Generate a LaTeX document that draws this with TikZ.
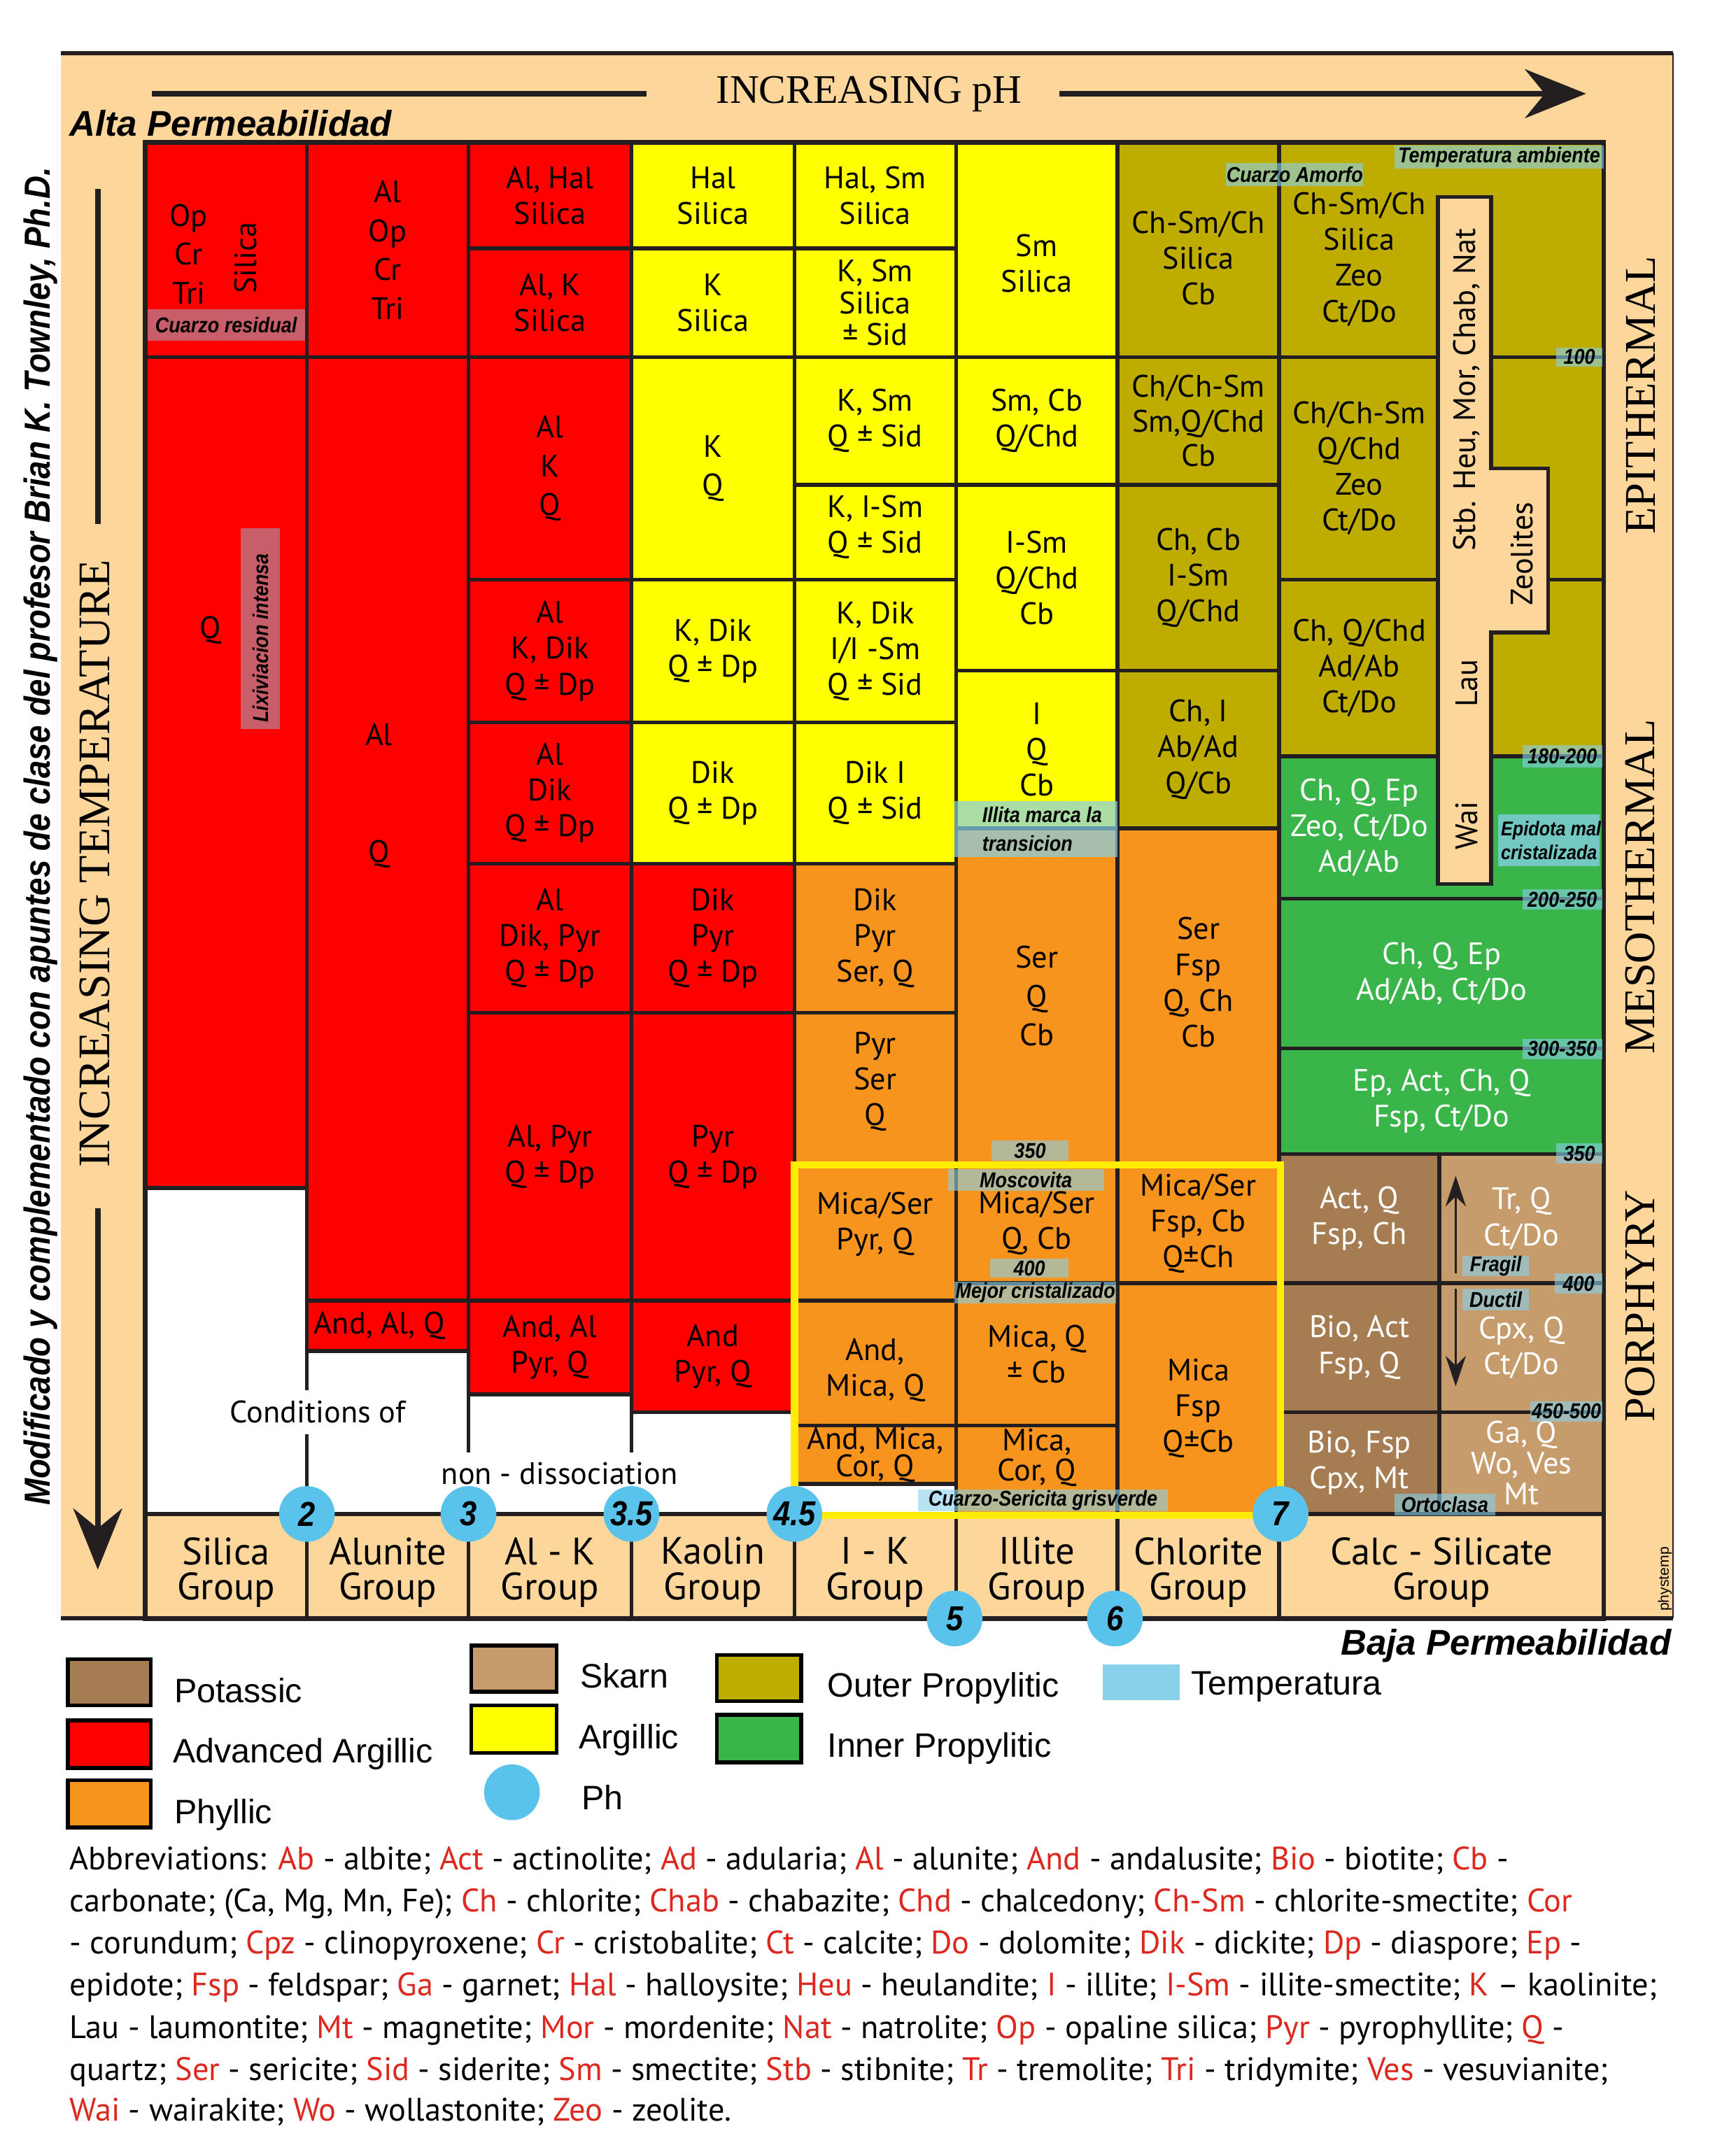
\documentclass[tikz,border=0pt]{standalone}
\usepackage{fontspec}
\setmainfont{Liberation Sans}
\newfontfamily\cellfont{PT Sans}
\newfontfamily\narrowfont{Liberation Sans}[FakeStretch=0.88]
\newfontfamily\zonefont{Liberation Serif}
\usetikzlibrary{arrows.meta, calc}

\definecolor{beige}{RGB}{252,214,155}
\definecolor{gridline}{RGB}{35,31,32}
\definecolor{argred}{RGB}{255,0,0}
\definecolor{argyellow}{RGB}{255,255,0}
\definecolor{phyllic}{RGB}{247,148,30}
\definecolor{outerprop}{RGB}{190,172,0}
\definecolor{innerprop}{RGB}{57,181,74}
\definecolor{potassic}{RGB}{166,124,82}
\definecolor{skarn}{RGB}{198,156,109}
\definecolor{phblue}{RGB}{89,195,235}
\definecolor{tempblue}{RGB}{135,209,235}
\definecolor{yellowframe}{RGB}{255,237,0}
\definecolor{abbrred}{RGB}{220,40,30}

\tikzset{
    gridcell/.style={draw=gridline, line width=1.6pt},
    celltext/.style={align=center, inner sep=0pt, font=\cellfont\fontsize{13}{15}\selectfont},
    looselines/.style={font=\cellfont\fontsize{13}{16.3}\selectfont},
    tightlines/.style={font=\cellfont\fontsize{13}{11.5}\selectfont},
    grouptext/.style={font=\cellfont\fontsize{16}{14.8}\selectfont, yshift=-0.9mm},
    templbl/.style={inner sep=0pt, font=\narrowfont\bfseries\itshape\fontsize{9}{11.9}\selectfont},
    phcircle/.style={circle, fill=phblue, minimum size=8.2mm, inner sep=0pt,
                     font=\narrowfont\bfseries\itshape\fontsize{14.5}{15}\selectfont},
    zonelbl/.style={rotate=90, inner sep=0pt, font=\zonefont\fontsize{18.4}{20}\selectfont},
    bigline/.style={draw=gridline, line width=2.3pt},
    bigarrow/.style={bigline, -{Stealth[length=9mm, width=7.2mm]}},
    smallarrow/.style={draw=gridline, line width=0.7pt, -{Stealth[length=4.5mm, width=3mm]}},
    legendbox/.style={draw=black, line width=1.6pt},
    legendtxt/.style={anchor=base west, inner sep=0pt, font=\fontsize{14.2}{16}\selectfont},
    abbrline/.style={anchor=base west, inner sep=0pt, font=\cellfont\fontsize{13.6}{16}\selectfont},
    permtxt/.style={inner sep=0pt, font=\bfseries\itshape\fontsize{15}{16}\selectfont},
}

% one coloured field of the chart: name, x1, y1, x2, y2, fill, text options, text
\newcommand{\zonecell}[8]{%
    \filldraw[gridcell, fill=#6] (#2,#3) rectangle (#4,#5);
    \node[celltext, #7] (#1) at ($(#2,#3)!0.5!(#4,#5)$) {#8};
}
% translucent temperature tag: [opacity] name, x1, y1, x2, y2, text
\newcommand{\templabel}[7][0.6]{%
    \fill[tempblue, opacity=#1] (#3,#4) rectangle (#5,#6);
    \node[templbl] (#2) at ($(#3,#4)!0.5!(#5,#6)$) {#7};
}
\newcommand{\abr}[1]{\textcolor{abbrred}{#1}}

\begin{document}
\begin{tikzpicture}[x=0.2mm, y=-0.2mm]
    \useasboundingbox (0,0) rectangle (1278,1568);
    \fill[white] (0,0) rectangle (1278,1568);

    % Frame
    \fill[beige] (45,39) rectangle (1232,1192);
    \draw[gridline, line width=1.7pt] (45,39) -- (1232,39);
    \draw[gridline, line width=0.5pt] (1232,39) -- (1232,1192);

    % Silica group
    \zonecell{silA}{107}{105}{226}{263}{argred}{looselines, xshift=-5.5mm, yshift=-0.6mm}{Op\\Cr\\Tri}
    \node[celltext, rotate=90] (silB) at (181,190) {Silica};
    \templabel[0.45]{cuarzores}{107}{228}{226}{251}{Cuarzo residual}
    \filldraw[gridcell, fill=argred] (107,263) rectangle (226,875);
    \node[celltext] (silQ) at (155,464) {Q};
    \fill[tempblue, opacity=0.45] (177,389) rectangle (206,537);
    \node[templbl, rotate=90] (lixiv) at (192,470) {Lixiviacion intensa};
    \filldraw[gridcell, fill=white] (107,875) rectangle (226,1115);

    % Alunite group
    \zonecell{aluA}{226}{105}{345}{263}{argred}{looselines}{Al\\Op\\Cr\\Tri}
    \filldraw[gridcell, fill=argred] (226,263) rectangle (345,958);
    \node[celltext] (aluAl) at (279,541) {Al};
    \node[celltext] (aluQ) at (279,629) {Q};
    \zonecell{aluB}{226}{958}{345}{995}{argred}{xshift=-1.2mm}{And, Al, Q}
    \filldraw[gridcell, fill=white] (226,995) rectangle (345,1115);

    % Al-K group
    \zonecell{alkA}{345}{105}{465}{183}{argred}{}{Al, Hal\\Silica}
    \zonecell{alkB}{345}{183}{465}{263}{argred}{}{Al, K\\Silica}
    \zonecell{alkC}{345}{263}{465}{427}{argred}{looselines}{Al\\K\\Q}
    \zonecell{alkD}{345}{427}{465}{532}{argred}{}{Al\\K, Dik\\Q ± Dp}
    \zonecell{alkE}{345}{532}{465}{636}{argred}{}{Al\\Dik\\Q ± Dp}
    \zonecell{alkF}{345}{636}{465}{746}{argred}{}{Al\\Dik, Pyr\\Q ± Dp}
    \zonecell{alkG}{345}{746}{465}{958}{argred}{}{Al, Pyr\\Q ± Dp}
    \zonecell{alkH}{345}{958}{465}{1027}{argred}{}{And, Al\\Pyr, Q}
    \filldraw[gridcell, fill=white] (345,1027) rectangle (465,1115);

    % Kaolin group
    \zonecell{kaoA}{465}{105}{585}{183}{argyellow}{}{Hal\\Silica}
    \zonecell{kaoB}{465}{183}{585}{263}{argyellow}{}{K\\Silica}
    \zonecell{kaoC}{465}{263}{585}{427}{argyellow}{looselines}{K\\Q}
    \zonecell{kaoD}{465}{427}{585}{532}{argyellow}{}{K, Dik\\Q ± Dp}
    \zonecell{kaoE}{465}{532}{585}{636}{argyellow}{}{Dik\\Q ± Dp}
    \zonecell{kaoF}{465}{636}{585}{746}{argred}{}{Dik\\Pyr\\Q ± Dp}
    \zonecell{kaoG}{465}{746}{585}{958}{argred}{}{Pyr\\Q ± Dp}
    \zonecell{kaoH}{465}{958}{585}{1040}{argred}{}{And\\Pyr, Q}
    \filldraw[gridcell, fill=white] (465,1040) rectangle (585,1115);

    % I-K group
    \zonecell{ikA}{585}{105}{704}{183}{argyellow}{}{Hal, Sm\\Silica}
    \zonecell{ikB}{585}{183}{704}{263}{argyellow}{font=\cellfont\fontsize{13}{13.3}\selectfont}{K, Sm\\Silica\\± Sid}
    \zonecell{ikC}{585}{263}{704}{357}{argyellow}{}{K, Sm\\Q ± Sid}
    \zonecell{ikD}{585}{357}{704}{427}{argyellow}{yshift=0.8mm}{K, I-Sm\\Q ± Sid}
    \zonecell{ikE}{585}{427}{704}{532}{argyellow}{}{K, Dik\\I/I -Sm\\Q ± Sid}
    \zonecell{ikF}{585}{532}{704}{636}{argyellow}{}{Dik I\\Q ± Sid}
    \zonecell{ikG}{585}{636}{704}{746}{phyllic}{}{Dik\\Pyr\\Ser, Q}
    \zonecell{ikH}{585}{746}{704}{857}{phyllic}{yshift=1mm}{Pyr\\Ser\\Q}
    \zonecell{ikI}{585}{857}{704}{958}{phyllic}{yshift=1.2mm}{Mica/Ser\\Pyr, Q}
    \zonecell{ikJ}{585}{958}{704}{1050}{phyllic}{yshift=-1mm}{And,\\Mica, Q}
    \zonecell{ikK}{585}{1050}{704}{1093}{phyllic}{tightlines}{And, Mica,\\Cor, Q}
    \filldraw[gridcell, fill=white] (585,1093) rectangle (704,1115);

    % Illite group
    \zonecell{illA}{704}{105}{823}{263}{argyellow}{yshift=-2mm}{Sm\\Silica}
    \zonecell{illB}{704}{263}{823}{357}{argyellow}{}{Sm, Cb\\Q/Chd}
    \zonecell{illC}{704}{357}{823}{494}{argyellow}{}{I-Sm\\Q/Chd\\Cb}
    \zonecell{illD}{704}{494}{823}{610}{argyellow}{}{I\\Q\\Cb}
    \zonecell{illE}{704}{610}{823}{857}{phyllic}{looselines}{Ser\\Q\\Cb}
    \zonecell{illF}{704}{857}{823}{945}{phyllic}{}{Mica/Ser\\Q, Cb}
    \zonecell{illG}{704}{945}{823}{1050}{phyllic}{}{Mica, Q\\± Cb}
    \zonecell{illH}{704}{1050}{823}{1115}{phyllic}{font=\cellfont\fontsize{13}{12.8}\selectfont, yshift=1.8mm}{Mica,\\Cor, Q}

    % Chlorite group
    \zonecell{chlA}{823}{105}{942}{263}{outerprop}{yshift=-1.2mm}{Ch-Sm/Ch\\Silica\\Cb}
    \zonecell{chlB}{823}{263}{942}{357}{outerprop}{font=\cellfont\fontsize{13}{14.5}\selectfont}{Ch/Ch-Sm\\Sm,Q/Chd\\Cb}
    \zonecell{chlC}{823}{357}{942}{494}{outerprop}{}{Ch, Cb\\I-Sm\\Q/Chd}
    \zonecell{chlD}{823}{494}{942}{610}{outerprop}{}{Ch, I\\Ab/Ad\\Q/Cb}
    \zonecell{chlE}{823}{610}{942}{857}{phyllic}{yshift=2mm}{Ser\\Fsp\\Q, Ch\\Cb}
    \zonecell{chlF}{823}{857}{942}{945}{phyllic}{}{Mica/Ser\\Fsp, Cb\\Q±Ch}
    \zonecell{chlG}{823}{945}{942}{1115}{phyllic}{yshift=-1.4mm}{Mica\\Fsp\\Q±Cb}

    % Calc-silicate group
    \zonecell{calA}{942}{105}{1181}{263}{outerprop}{xshift=-12.1mm, yshift=-1.4mm}{Ch-Sm/Ch\\Silica\\Zeo\\Ct/Do}
    \zonecell{calB}{942}{263}{1181}{427}{outerprop}{xshift=-12.1mm}{Ch/Ch-Sm\\Q/Chd\\Zeo\\Ct/Do}
    \zonecell{calC}{942}{427}{1181}{557}{outerprop}{xshift=-12.1mm}{Ch, Q/Chd\\Ad/Ab\\Ct/Do}
    \zonecell{calD}{942}{557}{1181}{662}{innerprop}{xshift=-12.1mm, text=white}{Ch, Q, Ep\\Zeo, Ct/Do\\Ad/Ab}
    \zonecell{calE}{942}{662}{1181}{772}{innerprop}{text=white}{Ch, Q, Ep\\Ad/Ab, Ct/Do}
    \zonecell{calF}{942}{772}{1181}{850}{innerprop}{text=white}{Ep, Act, Ch, Q\\Fsp, Ct/Do}
    \zonecell{calG}{942}{850}{1060}{945}{potassic}{text=white}{Act, Q\\Fsp, Ch}
    \zonecell{calH}{1060}{850}{1181}{945}{skarn}{text=white}{Tr, Q\\Ct/Do}
    \zonecell{calI}{942}{945}{1060}{1040}{potassic}{text=white}{Bio, Act\\Fsp, Q}
    \zonecell{calJ}{1060}{945}{1181}{1040}{skarn}{text=white}{Cpx, Q\\Ct/Do}
    \zonecell{calK}{942}{1040}{1060}{1115}{potassic}{text=white}{Bio, Fsp\\Cpx, Mt}
    \zonecell{calL}{1060}{1040}{1181}{1115}{skarn}{text=white, font=\cellfont\fontsize{13}{13}\selectfont}{Ga, Q\\Wo, Ves\\Mt}

    % Group names
    \zonecell{grpSil}{107}{1115}{226}{1192}{beige}{grouptext}{Silica\\Group}
    \zonecell{grpAlu}{226}{1115}{345}{1192}{beige}{grouptext}{Alunite\\Group}
    \zonecell{grpAlk}{345}{1115}{465}{1192}{beige}{grouptext}{Al - K\\Group}
    \zonecell{grpKao}{465}{1115}{585}{1192}{beige}{grouptext}{Kaolin\\Group}
    \zonecell{grpIK}{585}{1115}{704}{1192}{beige}{grouptext}{I - K\\Group}
    \zonecell{grpIll}{704}{1115}{823}{1192}{beige}{grouptext}{Illite\\Group}
    \zonecell{grpChl}{823}{1115}{942}{1192}{beige}{grouptext}{Chlorite\\Group}
    \zonecell{grpCal}{942}{1115}{1181}{1192}{beige}{grouptext}{Calc - Silicate\\Group}
    \draw[gridline, line width=2pt] (107,105) rectangle (1181,1192);
    \draw[gridline, line width=1.7pt] (45,1192) -- (1232,1192);

    % Conditions of non-dissociation
    \node[celltext, fill=white, inner xsep=1mm, inner ysep=1.6mm] (condA) at (234,1040) {Conditions of};
    \node[celltext, fill=white, inner xsep=1mm, inner ysep=1.4mm] (condB) at (412,1085) {non - dissociation};

    % Phyllic box
    \draw[yellowframe, line width=3.1pt] (585,858) rectangle (943,1116);

    % Zeolites
    \filldraw[fill=beige, draw=gridline, line width=1.7pt] (1059,145) -- (1098,145) -- (1098,345)
        -- (1140,345) -- (1140,466) -- (1098,466) -- (1098,651) -- (1059,651) -- cycle;
    \node[celltext, rotate=90] (zeoA) at (1080,287) {Stb. Heu, Mor, Chab, Nat};
    \node[celltext, rotate=90] (zeoB) at (1121,408) {Zeolites};
    \node[celltext, rotate=90] (zeoC) at (1080,503) {Lau};
    \node[celltext, rotate=90] (zeoD) at (1080,608) {Wai};

    % Temperature tags
    \templabel{tAmb}{1027}{107}{1181}{124}{Temperatura ambiente}
    \templabel{tAmo}{903}{120}{1004}{137}{Cuarzo Amorfo}
    \templabel{t100}{1146}{256}{1180}{270}{100}
    \templabel{t180}{1121}{549}{1180}{565}{180-200}
    \templabel{t200}{1121}{655}{1180}{670}{200-250}
    \templabel{t300}{1121}{765}{1180}{780}{300-350}
    \templabel{t350}{1146}{842}{1180}{857}{350}
    \templabel{t400}{1145}{938}{1180}{953}{400}
    \templabel{t450}{1127}{1032}{1180}{1047}{450-500}
    \fill[tempblue, opacity=0.75] (1103,600) rectangle (1178,638);
    \node[templbl, anchor=west, align=left, font=\narrowfont\bfseries\itshape\fontsize{8.4}{10.2}\selectfont] (epid) at (1105,619) {Epidota mal\\cristalizada};
    \fill[tempblue, opacity=0.7] (703,590) rectangle (823,631);
    \node[templbl, anchor=west, align=left] (illita) at (723,610.5) {Illita marca la\\transicion};
    \templabel{i350}{730}{840}{787}{855}{350}
    \templabel{mosc}{698}{861}{813}{877}{Moscovita}
    \templabel{i400}{729}{927}{787}{941}{400}
    \templabel{mejor}{703}{944}{822}{960}{Mejor cristalizado}
    \templabel{cuaser}{676}{1097}{860}{1113}{Cuarzo-Sericita grisverde}
    \templabel{frag}{1077}{925}{1126}{940}{Fragil}
    \templabel{duct}{1077}{949}{1126}{965}{Ductil}
    \templabel{orto}{1027}{1100}{1101}{1116}{Ortoclasa}

    % Fragil / Ductil arrows
    \coordinate (fragBot) at (1072,938);
    \coordinate (fragTop) at (1072,866);
    \coordinate (ductTop) at (1072,949);
    \coordinate (ductBot) at (1072,1021);
    \draw[smallarrow] (fragBot) -- (fragTop);
    \draw[smallarrow] (ductTop) -- (ductBot);

    % pH values
    \node[phcircle] (ph2) at (226,1115) {2};
    \node[phcircle] (ph3) at (345,1115) {3};
    \node[phcircle] (ph35) at (465,1115) {3.5};
    \node[phcircle] (ph45) at (585,1115) {4.5};
    \node[phcircle] (ph5) at (703,1192) {5};
    \node[phcircle] (ph6) at (821,1192) {6};
    \node[phcircle] (ph7) at (943,1115) {7};

    % Zones
    \node[zonelbl] (epi) at (1208,291) {EPITHERMAL};
    \node[zonelbl] (meso) at (1208,653) {MESOTHERMAL};
    \node[zonelbl] (porph) at (1208,962) {PORPHYRY};
    \node[rotate=90, inner sep=0pt, font=\fontsize{6.2}{7}\selectfont] (phys) at (1226,1163) {phystemp};

    % Increasing pH
    \node[anchor=base, inner sep=0pt, font=\zonefont\fontsize{17}{18}\selectfont] (incph) at (640,76) {INCREASING pH};
    \coordinate (phL1) at (112,69);
    \coordinate (phL2) at (476,69);
    \coordinate (phR1) at (780,69);
    \coordinate (phR2) at (1168,69);
    \draw[bigline] (phL1) -- (phL2);
    \draw[bigarrow] (phR1) -- (phR2);

    % Increasing temperature
    \node[rotate=90, inner sep=0pt, font=\zonefont\fontsize{18.9}{20}\selectfont] (inctemp) at (70,636) {INCREASING TEMPERATURE};
    \coordinate (tmU1) at (72,139);
    \coordinate (tmU2) at (72,386);
    \coordinate (tmD1) at (72,890);
    \coordinate (tmD2) at (72,1156);
    \draw[bigline] (tmU1) -- (tmU2);
    \draw[bigarrow] (tmD1) -- (tmD2);

    % Credits and permeability
    \node[rotate=90, inner sep=0pt, font=\narrowfont\bfseries\itshape\fontsize{15.2}{16}\selectfont] (credit) at (30,616)
        {Modificado y complementado  con apuntes de clase  del  profesor  Brian K. Townley, Ph.D.};
    \node[permtxt, anchor=base west] (alta) at (51,100) {Alta Permeabilidad};
    \node[permtxt, anchor=base east] (baja) at (1231,1219) {Baja Permeabilidad};

    % Legend
    \filldraw[legendbox, fill=potassic] (50,1222) rectangle (111,1256);
    \node[legendtxt] (lgPot) at (128,1254) {Potassic};
    \filldraw[legendbox, fill=argred] (50,1267) rectangle (111,1302);
    \node[legendtxt] (lgAdv) at (127,1298) {Advanced Argillic};
    \filldraw[legendbox, fill=phyllic] (50,1311) rectangle (111,1346);
    \node[legendtxt] (lgPhy) at (128,1343) {Phyllic};
    \filldraw[legendbox, fill=skarn] (347,1212) rectangle (410,1246);
    \node[legendtxt] (lgSka) at (427,1243) {Skarn};
    \filldraw[legendbox, fill=argyellow] (347,1256) rectangle (410,1291);
    \node[legendtxt] (lgArg) at (426,1288) {Argillic};
    \node[phcircle] (lgPhc) at (377,1320) {};
    \node[legendtxt] (lgPh) at (428,1333) {Ph};
    \filldraw[legendbox, fill=outerprop] (528,1219) rectangle (590,1253);
    \node[legendtxt] (lgOut) at (609,1250) {Outer Propylitic};
    \filldraw[legendbox, fill=innerprop] (528,1263) rectangle (590,1298);
    \node[legendtxt] (lgInn) at (609,1294) {Inner Propylitic};
    \fill[tempblue] (812,1226) rectangle (869,1252);
    \node[legendtxt] (lgTmp) at (877,1248) {Temperatura};

    % Abbreviations
    \node[abbrline] (abbr1) at (51,1377) {Abbreviations: \abr{Ab} - albite; \abr{Act} - actinolite; \abr{Ad} - adularia; \abr{Al} - alunite; \abr{And} - andalusite; \abr{Bio} - biotite; \abr{Cb} -};
    \node[abbrline] (abbr2) at (51,1408) {carbonate; (Ca, Mg, Mn, Fe); \abr{Ch} - chlorite; \abr{Chab} - chabazite; \abr{Chd} - chalcedony; \abr{Ch-Sm} - chlorite-smectite; \abr{Cor}};
    \node[abbrline] (abbr3) at (51,1439) {- corundum; \abr{Cpz} - clinopyroxene; \abr{Cr} - cristobalite; \abr{Ct} - calcite; \abr{Do} - dolomite; \abr{Dik} - dickite; \abr{Dp} - diaspore; \abr{Ep} -};
    \node[abbrline] (abbr4) at (51,1470) {epidote; \abr{Fsp} - feldspar; \abr{Ga} - garnet; \abr{Hal} - halloysite; \abr{Heu} - heulandite; \abr{I} - illite; \abr{I-Sm} - illite-smectite; \abr{K} – kaolinite;};
    \node[abbrline] (abbr5) at (51,1501) {Lau - laumontite; \abr{Mt} - magnetite; \abr{Mor} - mordenite; \abr{Nat} - natrolite; \abr{Op} - opaline silica; \abr{Pyr} - pyrophyllite; \abr{Q} -};
    \node[abbrline] (abbr6) at (51,1532) {quartz; \abr{Ser} - sericite; \abr{Sid} - siderite; \abr{Sm} - smectite; \abr{Stb} - stibnite; \abr{Tr} - tremolite; \abr{Tri} - tridymite; \abr{Ves} - vesuvianite;};
    \node[abbrline] (abbr7) at (51,1562) {\abr{Wai} - wairakite; \abr{Wo} - wollastonite; \abr{Zeo} - zeolite.};
\end{tikzpicture}
\end{document}
